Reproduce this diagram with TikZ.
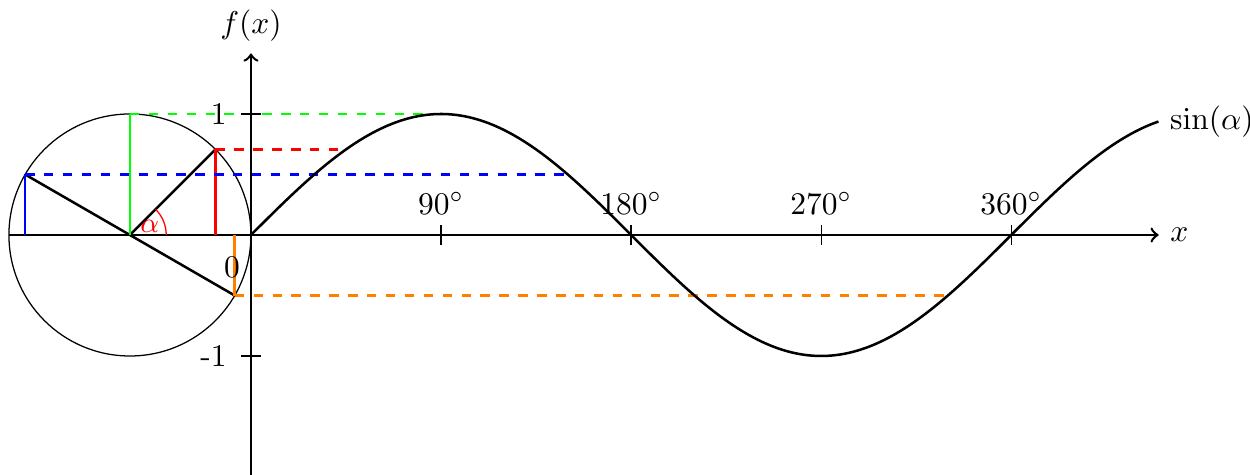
\documentclass[tikz,border=0pt]{standalone}
\usepackage{amsmath, amssymb, amsfonts}
\usepackage{tikz}
\usepackage{xcolor}
\usetikzlibrary{arrows,positioning,calc}

\begin{document}
\begin{tikzpicture}[scale=1.35,
        axis/.style={thick,->},
        spoke/.style={thick},
        proj/.style={thick,dashed},
        tickmark/.style={thin}]
        \useasboundingbox (-2.074,-1.983) rectangle (8.256,1.942);

        % Unit circle
        \coordinate (O) at (-1,0);
        \coordinate (origin) at (0,0);
        \coordinate (left) at (-2,0);
        \draw (O) circle (1);
        \draw (left) -- (origin);
        \coordinate (P45) at ($(O)+(45:1)$);
        \coordinate (P90) at ($(O)+(90:1)$);
        \coordinate (P150) at ($(O)+(150:1)$);
        \coordinate (P330) at ($(O)+(330:1)$);
        \draw[spoke] (O) -- (P45);
        \draw[spoke] (O) -- (P150);
        \draw[spoke] (O) -- (P330);
        \draw[red] ($(O)+(0.3,0)$) arc (0:45:0.3);
        \node[red, font=\small] (alpha) at ($(O)+(24:0.18)$) {$\alpha$};

        % Points on the curve
        \coordinate (S45) at ({pi/4},{sin(45)});
        \coordinate (S90) at ({pi/2},1);
        \coordinate (S150) at ({5*pi/6},0.5);
        \coordinate (S330) at ({11*pi/6},-0.5);

        % Projections
        \draw[thick, green] (P90 |- O) -- (P90);
        \draw[proj, green] (P90) -- (S90);
        \draw[thick, red] (P45 |- O) -- (P45);
        \draw[proj, red] (P45) -- (S45);
        \draw[thick, blue] (P150 |- O) -- (P150);
        \draw[proj, blue] (P150) -- (S150);
        \draw[thick, orange] (P330 |- O) -- (P330);
        \draw[proj, orange] (P330) -- (S330);

        % Axes
        \coordinate (xend) at (7.5,0);
        \coordinate (ybot) at (0,-2);
        \coordinate (ytop) at (0,1.5);
        \draw[axis] (origin) -- (xend) node[right] (xlabel) {$x$};
        \draw[axis] (ybot) -- (ytop) node[above] (ylabel) {$f(x)$};
        \foreach \d/\deg in {1/90,2/180,3/270,4/360}
            \draw[tickmark] ({\d*pi/2},-0.08) -- ({\d*pi/2},0.08) node[above] (t\d) {$\deg^\circ$};
        \draw[tickmark] (-0.08,1) -- (0.08,1);
        \draw[tickmark] (-0.08,-1) -- (0.08,-1);
        \node[left] (one) at (-0.11,1) {1};
        \node[left] (mone) at (-0.11,-1) {-1};
        \node (zero) at (-0.157,-0.27) {0};

        % Sine curve
        \draw[thick] plot[domain=0:7.5, samples=120, smooth] (\x,{sin(\x r)}) node[right] (sinlabel) {$\sin(\alpha)$};
    \end{tikzpicture}
\end{document}
